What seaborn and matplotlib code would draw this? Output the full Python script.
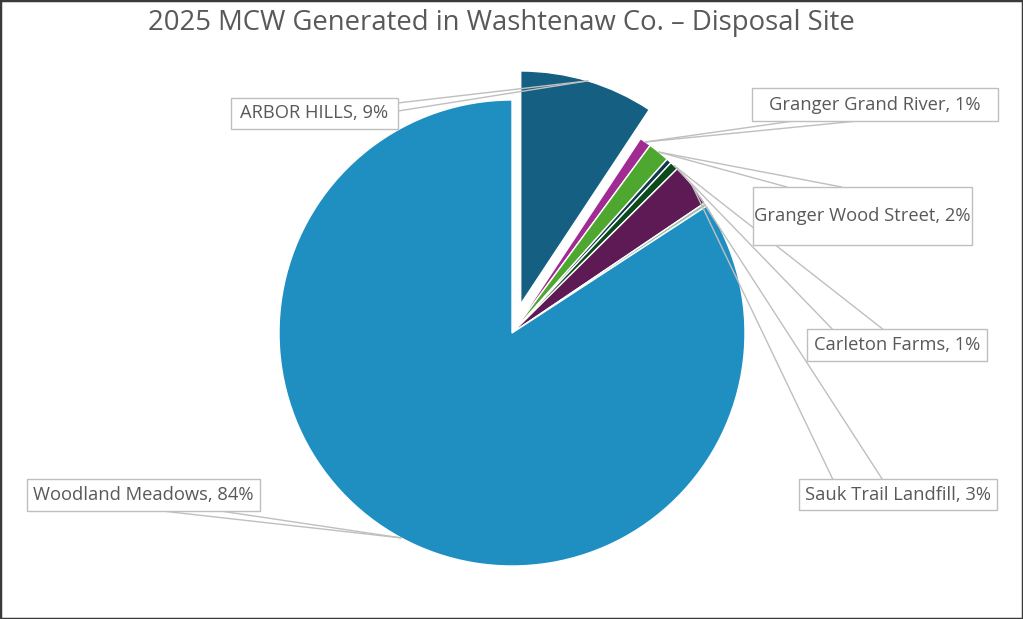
"""2025 MCW generated in Washtenaw Co. - disposal site pie."""

import matplotlib

matplotlib.use("Agg")

import matplotlib.pyplot as plt
import numpy as np
import seaborn as sns
from matplotlib.patches import Rectangle

# data (percent share by disposal site, clockwise from 12 o'clock)
sites = ["ARBOR HILLS", "Granger Grand River", "Granger Wood Street", "Other A",
         "Carleton Farms", "Sauk Trail Landfill", "Other B", "Woodland Meadows"]
shares = [9.3, 0.8, 1.5, 0.35, 0.6, 3.0, 0.25, 84.2]
label_pct = [9, 1, 2, None, 1, 3, None, 84]
colors = ["#156082", "#A02B93", "#4EA72E", "#0F3B4C",
          "#0C4A1B", "#5E1A54", "#9DBFA8", "#1F8FC2"]

# label boxes in pixels (x0, y0, x1, y1, y measured from top) and leader attach side/fractions
boxes = {
    "ARBOR HILLS": ((231, 98, 398, 129), "right", (0.16, 0.42)),
    "Granger Grand River": ((752, 88, 998, 121), "bottom", (0.17, 0.43)),
    "Granger Wood Street": ((753, 187, 972, 245), "top", (0.155, 0.405)),
    "Carleton Farms": ((807, 329, 987, 361), "top", (0.14, 0.42)),
    "Sauk Trail Landfill": ((799, 479, 997, 510), "top", (0.17, 0.42)),
    "Woodland Meadows": ((27, 479, 260, 511), "bottom", (0.58, 0.83)),
}

W, H = 1023, 619
R = 233
TEXT = "#595959"
LINE = "#BFBFBF"

sns.set_theme(style="white")
plt.rcParams["font.family"] = ["Open Sans", "DejaVu Sans"]

fig = plt.figure(figsize=(W / 100, H / 100), dpi=100)
ax = fig.add_axes([0, 0, 1, 1])

# pie explode offset is in data units, so scale by radius
explode = [0.13 * R if s == "ARBOR HILLS" else 0 for s in sites]
wedges, _ = ax.pie(
    shares,
    colors=colors,
    explode=explode,
    startangle=90,
    counterclock=False,
    center=(512, H - 333),
    radius=R,
    wedgeprops=dict(edgecolor="white", linewidth=1.0),
)
ax.set_xlim(0, W)
ax.set_ylim(0, H)
ax.set_aspect("equal")
ax.axis("off")

for w, name, pct in zip(wedges, sites, label_pct):
    if pct is None:
        continue
    (x0, y0, x1, y1), side, (f1, f2) = boxes[name]
    y0, y1 = H - y0, H - y1  # flip to axes coords (y up)
    ax.add_patch(Rectangle((x0, y1), x1 - x0, y0 - y1, facecolor="white",
                           edgecolor=LINE, linewidth=1.0, zorder=4))
    ax.text((x0 + x1) / 2, (y0 + y1) / 2, f"{name}, {pct}%", ha="center",
            va="center", color=TEXT, fontsize=13.2, zorder=5)

    theta = np.deg2rad((w.theta1 + w.theta2) / 2)
    cx, cy = w.center
    ax_, ay_ = cx + w.r * np.cos(theta), cy + w.r * np.sin(theta)
    if side == "right":
        pts = [(x1, y0 - f * (y0 - y1)) for f in (f1, f2)]
    elif side == "bottom":
        pts = [(x0 + f * (x1 - x0), y1) for f in (f1, f2)]
    else:
        pts = [(x0 + f * (x1 - x0), y0) for f in (f1, f2)]
    for px, py in pts:
        ax.plot([px, ax_], [py, ay_], color=LINE, linewidth=1.0, zorder=3)

fig.text(0.49, 1 - 23 / H, "2025 MCW Generated in Washtenaw Co. \u2013 Disposal Site",
         ha="center", va="center", color=TEXT, fontsize=19.8)

fig.patches.append(Rectangle((0, 0), 1, 1, transform=fig.transFigure, fill=False,
                             edgecolor="#3A3A3A", linewidth=2.5, zorder=10))

fig.savefig("out.png", dpi=100)
plt.close(fig)
